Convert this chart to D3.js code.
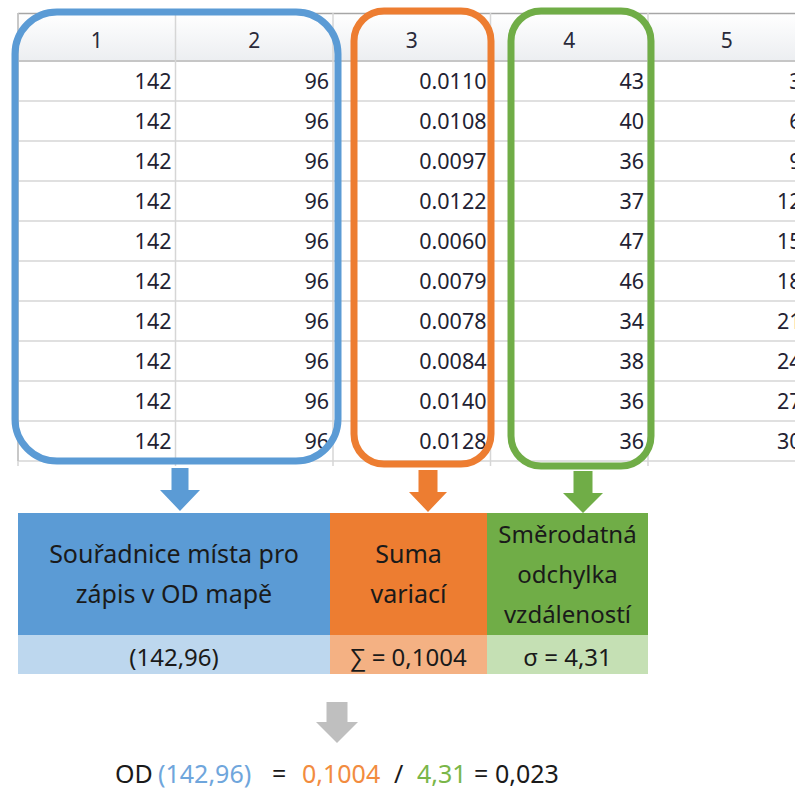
<!DOCTYPE html>
<html>
<head>
<meta charset="utf-8">
<script src="https://cdn.jsdelivr.net/npm/d3@7"></script>
<style>
  html, body { margin: 0; padding: 0; background: #fff; overflow: hidden; }
  text { font-family: "Noto Sans", "Open Sans", sans-serif; }
</style>
</head>
<body>
<div id="chart"></div>
<script>
var svgWidth = 795;
var svgHeight = 791;

// table data
var headers = ["1", "2", "3", "4", "5"];
var colX = [142, 142, 142, 142, 142, 142, 142, 142, 142, 142];
var colY = [96, 96, 96, 96, 96, 96, 96, 96, 96, 96];
var variations = [0.0110, 0.0108, 0.0097, 0.0122, 0.0060, 0.0079, 0.0078, 0.0084, 0.0140, 0.0128];
var distances = [43, 40, 36, 37, 47, 46, 34, 38, 36, 36];
var col5 = [3, 6, 9, 12, 15, 18, 21, 24, 27, 30];

// summary boxes
var boxTitles = [
  ["Souřadnice místa pro", "zápis v OD mapě"],
  ["Suma", "variací"],
  ["Směrodatná", "odchylka", "vzdáleností"]
];
var boxValues = ["(142,96)", "∑ = 0,1004", "σ = 4,31"];
var formulaParts = ["OD", "(142,96)", "=", "0,1004", "/", "4,31", "=", "0,023"];
var formulaColors = ["#1a1a1a", "#6fa6dc", "#1a1a1a", "#f28c3f", "#1a1a1a", "#7ab648", "#1a1a1a", "#1a1a1a"];
var formulaX = [115, 158, 272, 302, 394, 417, 474, 495];

var strong = ["#5b9bd5", "#ed7d31", "#70ad47"];
var light = ["#bdd7ee", "#f4b183", "#c5e0b4"];

var rows = d3.range(10).map(function(i) {
  return [colX[i], colY[i], variations[i].toFixed(4), distances[i], col5[i]];
});

var svg = d3.select("#chart")
  .append("svg")
  .attr("width", svgWidth)
  .attr("height", svgHeight);

var defs = svg.append("defs");
var grad = defs.append("linearGradient")
  .attr("id", "hdr")
  .attr("x1", 0).attr("y1", 0).attr("x2", 0).attr("y2", 1);
grad.append("stop").attr("offset", "0%").attr("stop-color", "#ffffff");
grad.append("stop").attr("offset", "100%").attr("stop-color", "#eceef1");

var tableLeft = 18, tableTop = 13, headerBottom = 61, tableBottom = 461;

var xCol = d3.scaleBand()
  .domain(d3.range(headers.length))
  .range([tableLeft, tableLeft + 157.5 * headers.length]);

var yRow = d3.scaleBand()
  .domain(d3.range(rows.length))
  .range([headerBottom, tableBottom]);

var table = svg.append("g");

// header
table.append("rect")
  .attr("x", tableLeft).attr("y", tableTop)
  .attr("width", svgWidth - tableLeft).attr("height", headerBottom - tableTop)
  .attr("fill", "url(#hdr)");

table.append("line")
  .attr("x1", tableLeft).attr("x2", svgWidth)
  .attr("y1", tableTop + 0.5).attr("y2", tableTop + 0.5)
  .attr("stroke", "#a6a6a6").attr("stroke-width", 1.5);

table.append("line")
  .attr("x1", tableLeft).attr("x2", svgWidth)
  .attr("y1", headerBottom).attr("y2", headerBottom)
  .attr("stroke", "#c6c6c6").attr("stroke-width", 2);

// row lines
table.selectAll(".rowline")
  .data(d3.range(1, rows.length + 1))
  .enter()
  .append("line")
  .attr("x1", tableLeft).attr("x2", svgWidth)
  .attr("y1", d => yRow(d - 1) + yRow.bandwidth())
  .attr("y2", d => yRow(d - 1) + yRow.bandwidth())
  .attr("stroke", "#d6d6d6").attr("stroke-width", 1.5);

// column lines
table.selectAll(".colline")
  .data(d3.range(headers.length))
  .enter()
  .append("line")
  .attr("x1", d => xCol(d)).attr("x2", d => xCol(d))
  .attr("y1", tableTop).attr("y2", tableBottom + 5)
  .attr("stroke", "#d6d6d6").attr("stroke-width", 1.5);

table.append("line")
  .attr("x1", tableLeft).attr("x2", tableLeft)
  .attr("y1", tableTop).attr("y2", tableBottom)
  .attr("stroke", "#c0c0c0").attr("stroke-width", 1.5);

// header labels
table.selectAll(".hdr")
  .data(headers)
  .enter()
  .append("text")
  .attr("x", (d, i) => xCol(i) + xCol.bandwidth() / 2)
  .attr("y", 48)
  .attr("text-anchor", "middle")
  .attr("font-size", 21)
  .attr("fill", "#2a2a3a")
  .text(d => d);

// cells (column 5 runs past the right edge, as in the screenshot)
rows.forEach(function(r, ri) {
  table.selectAll(".cell" + ri)
    .data(r)
    .enter()
    .append("text")
    .attr("x", (d, i) => xCol(i) + xCol.bandwidth() - 4)
    .attr("y", yRow(ri) + 28)
    .attr("text-anchor", "end")
    .attr("font-size", 21.5)
    .attr("fill", "#222233")
    .text(d => d);
});

// highlight frames
var frames = [
  { x0: 15, x1: 338, y0: 12, y1: 461, r: 42, c: strong[0] },
  { x0: 354, x1: 491, y0: 11, y1: 464, r: 30, c: strong[1] },
  { x0: 511, x1: 651, y0: 11, y1: 466, r: 30, c: strong[2] }
];
svg.selectAll(".frame")
  .data(frames)
  .enter()
  .append("rect")
  .attr("x", d => d.x0).attr("y", d => d.y0)
  .attr("width", d => d.x1 - d.x0).attr("height", d => d.y1 - d.y0)
  .attr("rx", d => d.r).attr("ry", d => d.r)
  .attr("fill", "none")
  .attr("stroke", d => d.c)
  .attr("stroke-width", 7);

// arrows
function arrow(g, cx, top, shaftW, headW, shaftEnd, tip, color) {
  g.append("path")
    .attr("d", "M" + (cx - shaftW / 2) + "," + top +
      "L" + (cx + shaftW / 2) + "," + top +
      "L" + (cx + shaftW / 2) + "," + shaftEnd +
      "L" + (cx + headW / 2) + "," + shaftEnd +
      "L" + cx + "," + tip +
      "L" + (cx - headW / 2) + "," + shaftEnd +
      "L" + (cx - shaftW / 2) + "," + shaftEnd + "Z")
    .attr("fill", color);
}
arrow(svg, 180, 468, 17, 40, 490, 511, strong[0]);
arrow(svg, 428, 470, 19, 38, 492, 512, strong[1]);
arrow(svg, 583, 471, 19, 40, 493, 513, strong[2]);
arrow(svg, 337, 702, 21, 42, 722, 743, "#bfbfbf");

// summary boxes
var boxEdges = [18, 330, 487, 648];
var boxTop = 513, boxMid = 635, boxBottom = 674;
var boxes = svg.selectAll(".box")
  .data(boxTitles)
  .enter()
  .append("g");

boxes.append("rect")
  .attr("x", (d, i) => boxEdges[i]).attr("y", boxTop)
  .attr("width", (d, i) => boxEdges[i + 1] - boxEdges[i])
  .attr("height", boxMid - boxTop)
  .attr("fill", (d, i) => strong[i]);

boxes.append("rect")
  .attr("x", (d, i) => boxEdges[i]).attr("y", boxMid)
  .attr("width", (d, i) => boxEdges[i + 1] - boxEdges[i])
  .attr("height", boxBottom - boxMid)
  .attr("fill", (d, i) => light[i]);

boxes.each(function(lines, i) {
  var cx = (boxEdges[i] + boxEdges[i + 1]) / 2;
  var lh = 40;
  var first = (boxTop + boxMid) / 2 + 9 - (lines.length - 1) * lh / 2;
  d3.select(this).selectAll("text.title")
    .data(lines)
    .enter()
    .append("text")
    .attr("x", cx)
    .attr("y", (d, j) => first + j * lh)
    .attr("text-anchor", "middle")
    .attr("font-size", i === 2 ? 24 : 25)
    .attr("fill", "#1a1a1a")
    .text(d => d);
  d3.select(this).append("text")
    .attr("x", cx)
    .attr("y", 666)
    .attr("text-anchor", "middle")
    .attr("font-size", 24)
    .attr("fill", "#1a1a1a")
    .text(boxValues[i]);
});

// formula
svg.selectAll(".formula")
  .data(formulaParts)
  .enter()
  .append("text")
  .attr("x", (d, i) => formulaX[i])
  .attr("y", 783)
  .attr("font-size", 25)
  .attr("fill", (d, i) => formulaColors[i])
  .text(d => d);
</script>
</body>
</html>
